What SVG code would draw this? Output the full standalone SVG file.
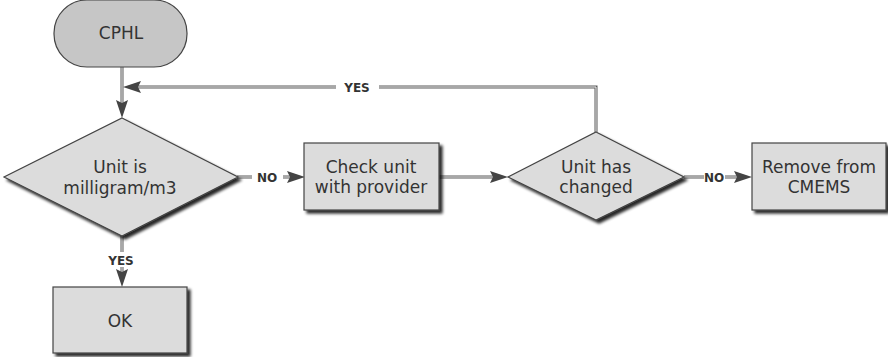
<svg xmlns="http://www.w3.org/2000/svg" width="888" height="357" viewBox="0 0 888 357">
  <defs>
    <filter id="shadow" x="-10%" y="-10%" width="130%" height="140%">
      <feGaussianBlur in="SourceAlpha" stdDeviation="1.5"/>
      <feOffset dx="3" dy="3" result="b"/>
      <feComponentTransfer><feFuncA type="linear" slope="0.85"/></feComponentTransfer>
      <feMerge><feMergeNode/><feMergeNode in="SourceGraphic"/></feMerge>
    </filter>
    <marker id="arrow" viewBox="0 0 18 12" refX="18" refY="6" markerWidth="18" markerHeight="12" markerUnits="userSpaceOnUse" orient="auto">
      <path d="M0,0 L18,6 L0,12 L3,6 Z" fill="#444"/>
    </marker>
  </defs>
  <style>
    .node { fill: #dcdcdc; stroke: #444; stroke-width: 1.2; }
    .start { fill: #c6c6c6; stroke: #444; stroke-width: 1.2; }
    .txt { font-family: "DejaVu Sans", Verdana, sans-serif; font-size: 17px; fill: #333; text-anchor: middle; }
    .lbl { font-family: "DejaVu Sans", Verdana, sans-serif; font-size: 12px; font-weight: bold; fill: #333; text-anchor: middle; }
    .wire { fill: none; stroke: #5a5a5a; stroke-width: 3; }
    .core { fill: none; stroke: #f4f4f4; stroke-width: 1; }
    .lblbg { fill: #fff; }
  </style>

  <g id="connectors">
    <!-- outer strokes -->
    <path class="wire" d="M122,67 V103"/>
    <path class="wire" d="M122,235 V272"/>
    <path class="wire" d="M237,177 H291"/>
    <path class="wire" d="M439,177 H493"/>
    <path class="wire" d="M684,177 H738"/>
    <path class="wire" d="M596,132 V87 H137"/>
    <!-- inner light cores -->
    <path class="core" d="M122,67 V103"/>
    <path class="core" d="M122,235 V272"/>
    <path class="core" d="M237,177 H291"/>
    <path class="core" d="M439,177 H493"/>
    <path class="core" d="M684,177 H738"/>
    <path class="core" d="M596,132 V87 H137"/>
    <!-- label gaps -->
    <rect class="lblbg" x="252" y="170" width="31" height="14"/>
    <rect class="lblbg" x="704" y="170" width="21" height="14"/>
    <rect class="lblbg" x="336" y="80" width="43" height="14"/>
    <rect class="lblbg" x="104" y="252" width="36" height="15"/>
    <!-- arrowheads -->
    <path d="M122,100 V118" stroke="none" marker-end="url(#arrow)"/>
    <path d="M122,270 V287" stroke="none" marker-end="url(#arrow)"/>
    <path d="M289,177 H305" stroke="none" marker-end="url(#arrow)"/>
    <path d="M491,177 H508" stroke="none" marker-end="url(#arrow)"/>
    <path d="M736,177 H752" stroke="none" marker-end="url(#arrow)"/>
    <path d="M140,87 H123" stroke="none" marker-end="url(#arrow)"/>
    <!-- labels -->
    <text class="lbl" x="267" y="182">NO</text>
    <text class="lbl" x="714" y="182">NO</text>
    <text class="lbl" x="357" y="92">YES</text>
    <text class="lbl" x="121" y="265">YES</text>
  </g>

  <g id="cphl">
    <rect class="start" x="54" y="0" width="133" height="67" rx="33" ry="33"/>
    <text class="txt" x="121" y="39">CPHL</text>
  </g>

  <g id="unit-is-milligram">
    <polygon class="node" filter="url(#shadow)" points="122,118 238,177 122,236 4,177"/>
    <text class="txt" x="120" y="173">Unit is</text>
    <text class="txt" x="120" y="194">milligram/m3</text>
  </g>

  <g id="check-unit">
    <rect class="node" filter="url(#shadow)" x="304" y="143" width="135" height="67"/>
    <text class="txt" x="371" y="173">Check unit</text>
    <text class="txt" x="371" y="193">with provider</text>
  </g>

  <g id="unit-has-changed">
    <polygon class="node" filter="url(#shadow)" points="596,132 684,177 596,220 508,177"/>
    <text class="txt" x="596" y="173">Unit has</text>
    <text class="txt" x="596" y="193">changed</text>
  </g>

  <g id="remove-from-cmems">
    <rect class="node" filter="url(#shadow)" x="752" y="143" width="134" height="67"/>
    <text class="txt" x="819" y="173">Remove from</text>
    <text class="txt" x="819" y="193">CMEMS</text>
  </g>

  <g id="ok">
    <rect class="node" filter="url(#shadow)" x="53" y="287" width="134" height="66"/>
    <text class="txt" x="120" y="327">OK</text>
  </g>
</svg>
